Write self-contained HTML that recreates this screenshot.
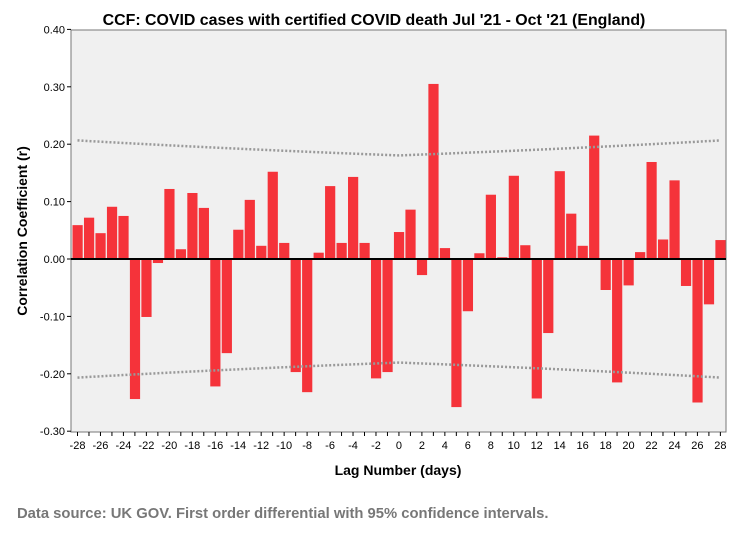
<!DOCTYPE html>
<html><head><meta charset="utf-8"><style>
body{margin:0;background:#fff;font-family:"Liberation Sans",Arial,sans-serif}
svg text{font-family:"Liberation Sans",Arial,sans-serif}
</style></head><body>
<svg id="c" width="747" height="541" xmlns="http://www.w3.org/2000/svg">
<rect width="747" height="541" fill="#fff"/>
<text x="374" y="25" text-anchor="middle" font-size="15.9" font-weight="bold" fill="#000">CCF: COVID cases with certified COVID death Jul '21 - Oct '21 (England)</text>
<rect x="71" y="30" width="655" height="402" fill="#f0f0f0" stroke="#777"/>
<g id="bars"></g><g id="axes"></g>
<text x="27" y="231" transform="rotate(-90 27 231)" text-anchor="middle" font-size="14" font-weight="bold">Correlation Coefficient (r)</text>
<text x="398" y="475" text-anchor="middle" font-size="14" font-weight="bold">Lag Number (days)</text>
<text x="17" y="518" font-size="14.8" font-weight="bold" fill="#777">Data source: UK GOV. First order differential with 95% confidence intervals.</text>
</svg>
<script>
const lags=[];for(let k=-28;k<=28;k++)lags.push(k);
const values=[0.059,0.072,0.045,0.091,0.075,-0.244,-0.101,-0.007,0.122,0.017,0.115,0.089,-0.222,-0.164,0.051,0.103,0.023,0.152,0.028,-0.197,-0.232,0.011,0.127,0.028,0.143,0.028,-0.208,-0.197,0.047,0.086,-0.028,0.305,0.019,-0.258,-0.091,0.010,0.112,0.003,0.145,0.024,-0.243,-0.129,0.153,0.079,0.023,0.215,-0.054,-0.215,-0.046,0.012,0.169,0.034,0.137,-0.047,-0.250,-0.079,0.033];
const yTicks=[0.40,0.30,0.20,0.10,0.00,-0.10,-0.20,-0.30];
const xTicks=[-28,-26,-24,-22,-20,-18,-16,-14,-12,-10,-8,-6,-4,-2,0,2,4,6,8,10,12,14,16,18,20,22,24,26,28];
const nObs=118;
const NS="http://www.w3.org/2000/svg";
const y=v=>259-v*574;
const x=k=>77.5+(k+28)*11.48;
const bars=document.getElementById('bars'),axes=document.getElementById('axes');
function mk(t,a,p){const e=document.createElementNS(NS,t);for(const k in a)e.setAttribute(k,a[k]);p.appendChild(e);return e;}
values.forEach((v,i)=>{const r=mk('rect',{x:x(lags[i])-5,y:Math.min(y(v),y(0)),width:10.2,height:Math.abs(y(v)-y(0)),fill:'#f5333a'},bars);

});
let up='',lo='';lags.forEach((k,i)=>{const c=1.96/Math.sqrt(nObs-Math.abs(k));up+=(i?'L':'M')+x(k)+','+y(c);lo+=(i?'L':'M')+x(k)+','+y(-c);});
const cu=mk('path',{d:up,fill:'none',stroke:'#999','stroke-width':2.5,'stroke-dasharray':'2,2'},bars);


const cl=mk('path',{d:lo,fill:'none',stroke:'#999','stroke-width':2.5,'stroke-dasharray':'2,2'},bars);


const zl=mk('line',{x1:71,x2:726,y1:y(0),y2:y(0),stroke:'#000','stroke-width':2},axes);


yTicks.forEach(v=>{mk('line',{x1:67,x2:71,y1:y(v),y2:y(v),stroke:'#000'},axes);
const t=mk('text',{x:65,y:y(v)+4,'text-anchor':'end','font-size':11},axes);t.textContent=v.toFixed(2);

});
lags.forEach(k=>mk('line',{x1:x(k),x2:x(k),y1:432,y2:436,stroke:'#000'},axes));
xTicks.forEach(k=>{const t=mk('text',{x:x(k),y:449,'text-anchor':'middle','font-size':11},axes);t.textContent=k;

});
</script>
</body></html>
